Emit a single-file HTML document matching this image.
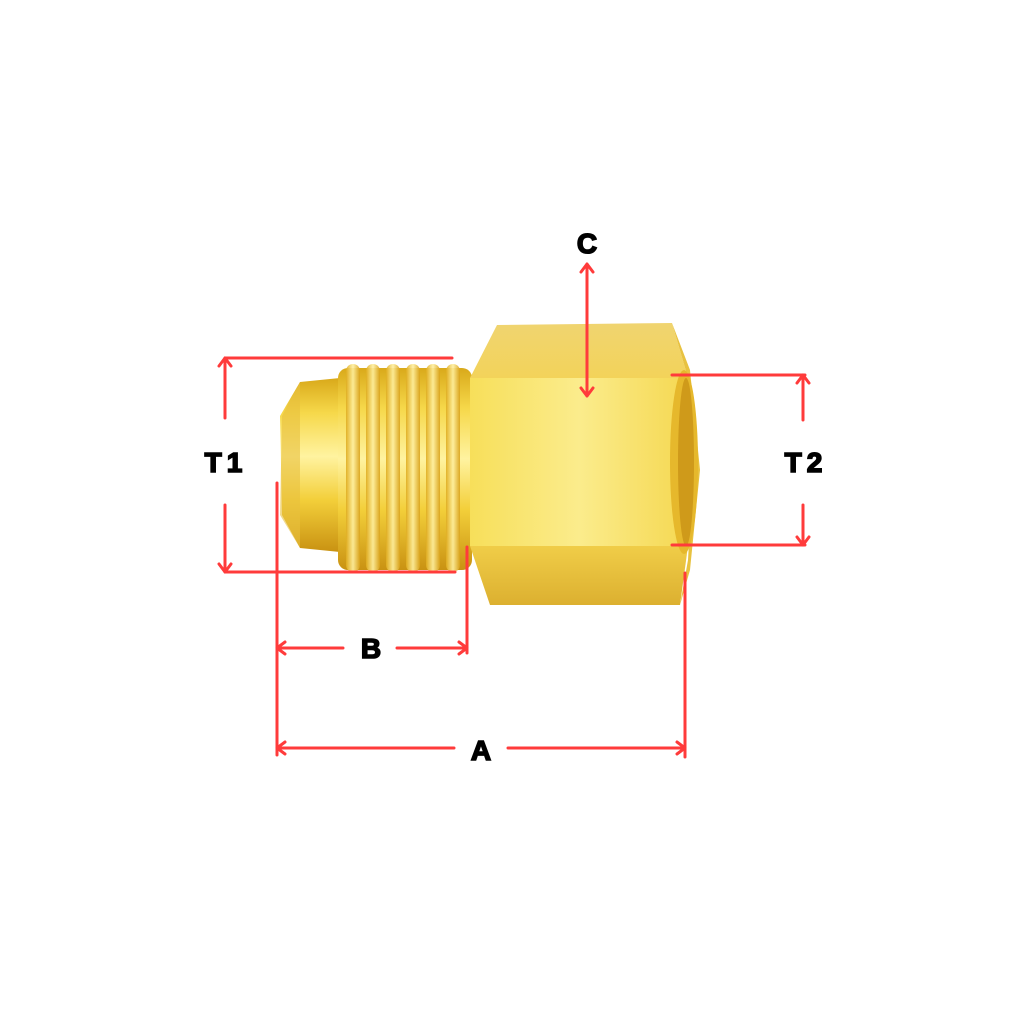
<!DOCTYPE html>
<html><head><meta charset="utf-8"><style>
html,body{margin:0;padding:0;background:#fff;width:1024px;height:1024px;overflow:hidden}
</style></head><body>
<svg width="1024" height="1024" viewBox="0 0 1024 1024" xmlns="http://www.w3.org/2000/svg">
<defs>
<linearGradient id="v" x1="0" y1="0" x2="0" y2="1">
<stop offset="0" stop-color="#d9a91a"/><stop offset="0.2" stop-color="#f6d84a"/><stop offset="0.45" stop-color="#fff3a0"/><stop offset="0.7" stop-color="#f3cf3a"/><stop offset="1" stop-color="#c99212"/>
</linearGradient>
<linearGradient id="hm" x1="0" y1="0" x2="1" y2="0">
<stop offset="0" stop-color="#f7df5a"/><stop offset="0.5" stop-color="#fbec8c"/><stop offset="1" stop-color="#f5d852"/>
</linearGradient>
<linearGradient id="ht" x1="0" y1="0" x2="0" y2="1">
<stop offset="0" stop-color="#f0d470"/><stop offset="1" stop-color="#f3d35a"/>
</linearGradient>
<linearGradient id="hb" x1="0" y1="0" x2="0" y2="1">
<stop offset="0" stop-color="#f0cd48"/><stop offset="1" stop-color="#dcb030"/>
</linearGradient>
<linearGradient id="th" x1="0" y1="0" x2="1" y2="0">
<stop offset="0" stop-color="#e0ad20"/><stop offset="0.5" stop-color="#fff0a0"/><stop offset="1" stop-color="#d9a21a"/>
</linearGradient>
</defs>
<path d="M300 382 L340 378 L340 552 L300 548 L282 515 L280 416 Z" fill="url(#v)"/>
<path d="M300 382 L282 416 L280 515 L300 548 Z" fill="#e8c040" opacity="0.6"/>
<rect x="338" y="368" width="134" height="202" rx="10" fill="url(#v)"/>
<g fill="url(#th)" opacity="0.9">
<rect x="346" y="364" width="14" height="208" rx="7"/>
<rect x="366" y="364" width="14" height="208" rx="7"/>
<rect x="386" y="364" width="14" height="208" rx="7"/>
<rect x="406" y="364" width="14" height="208" rx="7"/>
<rect x="426" y="364" width="14" height="208" rx="7"/>
<rect x="446" y="364" width="14" height="208" rx="7"/>
</g>
<path d="M497 325 L672 323 L688 378 L470 378 Z" fill="url(#ht)"/>
<rect x="470" y="378" width="218" height="168" fill="url(#hm)"/>
<path d="M470 546 L688 546 L680 605 L490 605 Z" fill="url(#hb)"/>
<path d="M672 323 L688 378 L693 470 L688 560 L680 605 L690 570 L700 470 L690 370 Z" fill="#e8c240"/>
<ellipse cx="684" cy="462" rx="14" ry="92" fill="#e6b82c"/>
<ellipse cx="686" cy="462" rx="8" ry="84" fill="#cf9a1a"/>
<g stroke="#ff3b3b" stroke-width="3" fill="none" stroke-linecap="round" stroke-linejoin="round">
<path d="M225 358 H452 M225 358 V418 M225 505 V572 H455"/>
<path d="M219 366 L225 358 L231 366 M219 564 L225 572 L231 564"/>
<path d="M277 483 V755 M467 547 V653 M685 573 V757"/>
<path d="M277 648 H343 M397 648 H467 M285 642 L277 648 L285 654 M459 642 L467 648 L459 654"/>
<path d="M277 748 H454 M508 748 H685 M285 742 L277 748 L285 754 M677 742 L685 748 L677 754"/>
<path d="M587 264 V396 M581 272 L587 264 L593 272 M581 388 L587 396 L593 388"/>
<path d="M672 375 H805 M803 375 V420 M803 505 V545 M672 545 H805 M797 383 L803 375 L809 383 M797 537 L803 545 L809 537"/>
</g>
<g font-family="Liberation Sans, sans-serif" font-weight="bold" font-size="28" fill="#000" stroke="#000" stroke-width="1.6" text-anchor="middle">
<text x="587" y="253">C</text>
<text x="226" y="472" letter-spacing="5">T1</text>
<text x="806" y="472" letter-spacing="5">T2</text>
<text x="371" y="658">B</text>
<text x="481" y="760">A</text>
</g>
</svg>
</body></html>
